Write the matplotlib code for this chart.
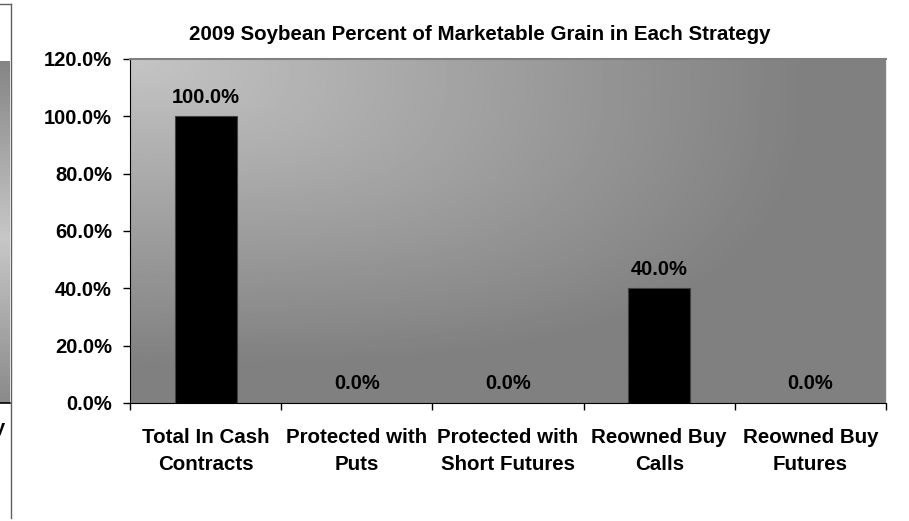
import matplotlib
matplotlib.use("Agg")
import matplotlib.pyplot as plt
import numpy as np

plt.rcParams['font.family'] = ['Liberation Sans', 'DejaVu Sans']
plt.rcParams['font.weight'] = 'bold'

# data
categories = ["Total In Cash\nContracts", "Protected with\nPuts", "Protected with\nShort Futures",
              "Reowned Buy\nCalls", "Reowned Buy\nFutures"]
percent = [1.00, 0.0, 0.0, 0.40, 0.0]
y_ticks = [0.0, 0.2, 0.4, 0.6, 0.8, 1.0, 1.2]
title = "2009 Soybean Percent of Marketable Grain in Each Strategy"

W, H = 909, 521
fig = plt.figure(figsize=(W / 100, H / 100), dpi=100)
fig.patch.set_facecolor("white")

# leftover piece of neighbouring chart on the far left
strip = fig.add_axes([0, (H - 403) / H, 10 / W, (403 - 61) / H])
yy = np.linspace(0, 1, 200)
sv = 0.52 + 0.26 * (1 - np.abs(yy - 0.52) / 0.52).clip(0, 1)
strip.imshow(sv[:, None], cmap="gray", vmin=0, vmax=1, aspect="auto")
strip.set_axis_off()
fig.add_artist(plt.Line2D([0, 10 / W], [(H - 403) / H] * 2, color="black", lw=1.2))
fig.add_artist(plt.Line2D([10.5 / W] * 2, [(H - 518) / H, (H - 4) / H], color="#606060", lw=1))
fig.add_artist(plt.Line2D([0, 10.5 / W], [(H - 4) / H] * 2, color="#606060", lw=1))
fig.text(5 / W, (H - 429) / H, "y", ha="right", va="center", fontsize=14.5, fontweight="bold")

# main chart
ax = fig.add_axes([130 / W, (H - 403) / H, (886 - 130) / W, (403 - 59) / H])
x = np.arange(len(categories))

gx, gy = np.meshgrid(np.linspace(0, 1, 400), np.linspace(0, 1, 200))
t = ((gx ** 3 + gy ** 3) ** (1 / 3) / 0.9).clip(0, 1)
bg = 0.77 - 0.27 * t
ax.imshow(bg, cmap="gray", vmin=0, vmax=1, aspect="auto",
          extent=(-0.5, len(categories) - 0.5, 0, 1.2), origin="upper", zorder=0)

ax.bar(x, percent, width=0.41, color="black", edgecolor="#404040", linewidth=0.8, zorder=2)
for xi, v in zip(x, percent):
    ax.annotate(f"{v * 100:.1f}%", (xi, v), xytext=(0, 7), textcoords="offset points",
                ha="center", va="bottom", fontsize=14.5, fontweight="bold")

ax.set_xlim(-0.5, len(categories) - 0.5)
ax.set_ylim(0, 1.2)
ax.set_yticks(y_ticks)
ax.set_yticklabels([f"{v * 100:.1f}%" for v in y_ticks], fontsize=14.5, fontweight="bold")
ax.tick_params(axis="y", direction="out", length=5, width=1, pad=8)

ax.set_xticks(np.arange(len(categories) + 1) - 0.5)
ax.set_xticklabels([])
ax.tick_params(axis="x", which="major", direction="out", length=5, width=1)
ax.set_xticks(x, minor=True)
ax.set_xticklabels(categories, minor=True, fontsize=14.8, fontweight="bold", linespacing=1.5)
ax.tick_params(axis="x", which="minor", length=0, pad=18)

ax.spines["left"].set_color("black")
ax.spines["bottom"].set_color("black")
ax.spines["top"].set_color("#808080")
ax.spines["top"].set_linewidth(1.5)
ax.spines["right"].set_color("#e8e8e8")

fig.text(480 / W, (H - 34) / H, title, ha="center", va="center",
         fontsize=14.8, fontweight="bold")

fig.savefig("out.png", dpi=100)
